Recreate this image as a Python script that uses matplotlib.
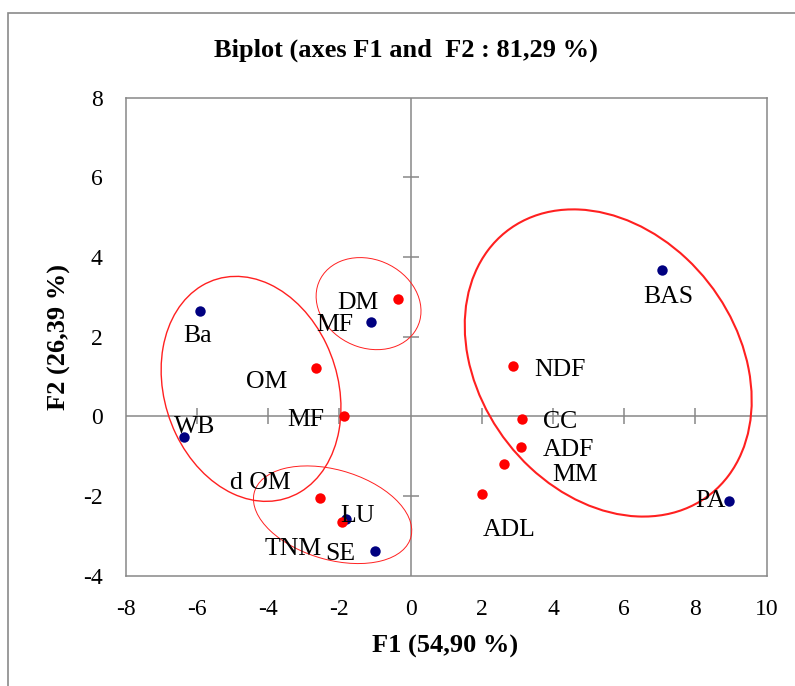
import matplotlib
matplotlib.use("Agg")
import matplotlib.pyplot as plt
from matplotlib.patches import Ellipse, Rectangle

plt.rcParams['font.family'] = ['Liberation Serif', 'DejaVu Serif']
plt.rcParams['axes.unicode_minus'] = False

# observations (blue) and variables (red), F1 / F2 coordinates
obs_names = ['Ba', 'WB', 'MF', 'LU', 'SE', 'BAS', 'PA']
obs_f1 = [-5.92, -6.37, -1.11, -1.81, -0.99, 7.07, 8.95]
obs_f2 = [2.65, -0.51, 2.37, -2.58, -3.37, 3.68, -2.12]

var_names = ['DM', 'OM', 'MF', 'd OM', 'TNM', 'NDF', 'CC', 'ADF', 'MM', 'ADL']
var_f1 = [-0.35, -2.66, -1.87, -2.54, -1.92, 2.87, 3.14, 3.11, 2.62, 2.00]
var_f2 = [2.95, 1.22, 0.00, -2.05, -2.64, 1.27, -0.06, -0.76, -1.19, -1.94]

# group ellipses: centre, width, height, angle
ell_cx = [-4.48, -1.18, -2.19, 5.55]
ell_cy = [0.69, 2.83, -2.47, 1.34]
ell_w = [5.87, 3.00, 4.54, 8.81]
ell_h = [4.79, 2.24, 2.27, 6.84]
ell_ang = [118.1, -16.6, -13.6, 140.1]
ell_lw = [1.0, 0.7, 0.7, 1.5]

# label offsets (pixels, right / down)
obs_off = [(-16, 31), (-10, -4), (-55, 9), (-6, 3), (-50, 9), (-19, 33), (-34, 6)]
var_off = [(-61, 10), (-70, 20), (-57, 10), (-90, -9), (-78, 33),
           (21, 10), (21, 9), (21, 9), (48, 17), (1, 42)]

xticks = [-8, -6, -4, -2, 0, 2, 4, 6, 8, 10]
yticks = [-4, -2, 0, 2, 4, 6, 8]

grey = '#878787'

fig = plt.figure(figsize=(7.95, 6.86), dpi=100)
ax = fig.add_axes([0.1581, 0.1608, 0.8063, 0.6968])

ax.set_xlim(-8, 10)
ax.set_ylim(-4, 8)
ax.set_xticks(xticks)
ax.set_yticks(yticks)
ax.tick_params(length=0, pad=16.5, labelsize=17)
for s in ax.spines.values():
    s.set_color(grey)
    s.set_linewidth(1.1)

# zero axes with crossing ticks
ax.axhline(0, color=grey, lw=1.1, zorder=1)
ax.axvline(0, color=grey, lw=1.1, zorder=1)
xt = [t for t in xticks if t not in (0, -8, 10)]
yt = [t for t in yticks if t not in (0, -4, 8)]
ax.plot(xt, [0] * len(xt), ls='none', marker='|', ms=11, mew=1.1, color=grey, zorder=1)
ax.plot([0] * len(yt), yt, ls='none', marker='_', ms=11, mew=1.1, color=grey, zorder=1)

for cx, cy, w, h, a, lw in zip(ell_cx, ell_cy, ell_w, ell_h, ell_ang, ell_lw):
    ax.add_patch(Ellipse((cx, cy), w, h, angle=a, fill=False, ec='#ff2020', lw=lw, zorder=2))

ax.plot(obs_f1, obs_f2, 'o', color='#000080', ms=7.5, mew=0, zorder=3)
ax.plot(var_f1, var_f2, 'o', color='#ff0000', ms=7.5, mew=0, zorder=4)

for names, xs, ys, offs in [(obs_names, obs_f1, obs_f2, obs_off),
                            (var_names, var_f1, var_f2, var_off)]:
    for n, x, y, (dx, dy) in zip(names, xs, ys, offs):
        ax.annotate(n, (x, y), xytext=(dx * 0.72, -dy * 0.72), textcoords='offset points',
                    ha='left', va='baseline', fontsize=18.5, zorder=5)

fig.text(405.6 / 795, 1 - 50 / 686, 'Biplot (axes F1 and  F2 : 81,29 %)',
         ha='center', va='center', fontsize=19, fontweight='bold')
fig.text(444.7 / 795, 1 - 646 / 686, 'F1 (54,90 %)', ha='center', va='center',
         fontsize=19, fontweight='bold')
fig.text(59 / 795, 1 - 337 / 686, 'F2 (26,39 %)', ha='center', va='center',
         rotation=90, fontsize=19, fontweight='bold')

fig.add_artist(Rectangle((8.3 / 795, -0.1), 1.2, 1 - 13.3 / 686 + 0.1,
                         transform=fig.transFigure, fill=False, ec='#8a8a8a', lw=1.2))

plt.savefig('out.png', dpi=100)
